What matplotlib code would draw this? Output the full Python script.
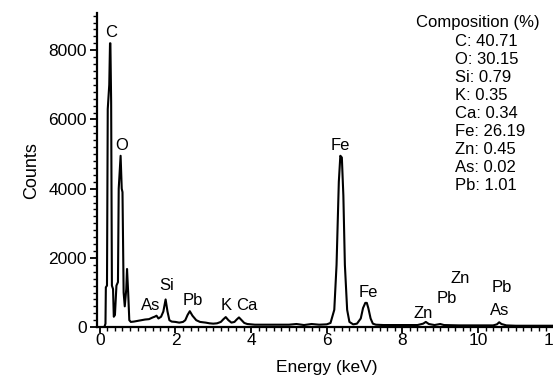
import numpy as np
import matplotlib.pyplot as plt
from matplotlib.ticker import MultipleLocator

plt.rcParams['font.family'] = ['Liberation Sans', 'DejaVu Sans']

# spectrum (keV, counts)
energy = [0.0, 0.12, 0.15, 0.16, 0.19, 0.21, 0.25, 0.27, 0.28, 0.30, 0.32, 0.35,
          0.37, 0.40, 0.44, 0.48, 0.50, 0.55, 0.58, 0.60, 0.63, 0.66, 0.70, 0.72,
          0.75, 0.78, 0.82, 0.90, 1.00, 1.10, 1.20, 1.30, 1.40, 1.45, 1.50, 1.55,
          1.62, 1.68, 1.74, 1.79, 1.84, 1.90, 2.00, 2.10, 2.20, 2.26, 2.32, 2.38,
          2.45, 2.55, 2.65, 2.80, 2.90, 3.00, 3.10, 3.20, 3.27, 3.33, 3.40, 3.48,
          3.56, 3.62, 3.68, 3.75, 3.82, 3.90, 4.00, 4.10, 4.20, 4.50, 5.00, 5.20,
          5.40, 5.60, 5.80, 6.00, 6.10, 6.20, 6.26, 6.32, 6.36, 6.40, 6.44, 6.48,
          6.54, 6.60, 6.70, 6.80, 6.90, 6.96, 7.02, 7.06, 7.10, 7.16, 7.22, 7.30,
          7.50, 8.00, 8.40, 8.55, 8.62, 8.70, 8.85, 9.00, 9.10, 9.50, 10.00, 10.40,
          10.50, 10.56, 10.62, 10.75, 11.00, 11.50, 12.00]
counts = [0, 0, 100, 1150, 1200, 6300, 7000, 8200, 8200, 6500, 1200, 1100,
          300, 350, 1200, 1300, 4000, 4950, 4000, 3900, 1000, 600, 1100, 1680,
          1000, 200, 150, 160, 180, 200, 220, 230, 280, 300, 330, 250,
          300, 450, 800, 450, 200, 160, 150, 130, 150, 200, 350, 460,
          330, 200, 150, 130, 110, 100, 110, 150, 230, 290, 200, 130,
          150, 220, 280, 200, 120, 90, 80, 70, 70, 70, 70, 90,
          60, 90, 70, 80, 120, 500, 1800, 4200, 4950, 4900, 3800, 1800,
          500, 150, 80, 100, 250, 550, 700, 700, 550, 250, 100, 70,
          60, 60, 60, 100, 150, 90, 60, 90, 60, 50, 50, 50,
          80, 140, 90, 50, 40, 40, 40]

peak_labels = ['C', 'O', 'As', 'Si', 'Pb', 'K', 'Ca', 'Fe', 'Fe', 'Zn', 'Pb', 'Zn', 'Pb', 'As']
label_x = [0.30, 0.58, 1.35, 1.77, 2.46, 3.34, 3.90, 6.35, 7.10, 8.54, 9.18, 9.52, 10.62, 10.56]
label_y = [8500, 5250, 620, 1200, 760, 620, 620, 5250, 1000, 390, 820, 1400, 1140, 470]

elements = ['C', 'O', 'Si', 'K', 'Ca', 'Fe', 'Zn', 'As', 'Pb']
composition = ['40.71', '30.15', '0.79', '0.35', '0.34', '26.19', '0.45', '0.02', '1.01']

fig = plt.figure(figsize=(5.53, 3.76), dpi=100)
ax = fig.add_axes([0.175, 0.13, 0.833, 0.835])

ax.plot(energy, counts, color='black', lw=1.5)

for lab, x, y in zip(peak_labels, label_x, label_y):
    ax.text(x, y, lab, ha='center', va='center', fontsize=12)

ax.set_xlim(-0.08, 12.1)
ax.set_ylim(0, 9070)
ax.xaxis.set_major_locator(MultipleLocator(2))
ax.xaxis.set_minor_locator(MultipleLocator(0.2))
ax.yaxis.set_major_locator(MultipleLocator(2000))
ax.yaxis.set_minor_locator(MultipleLocator(200))
ax.tick_params(which='major', length=5, width=1.3, labelsize=12.5, pad=2)
ax.tick_params(axis='x', which='major', length=4, pad=0)
ax.tick_params(which='minor', length=3, width=1.0)
ax.spines['top'].set_visible(False)
ax.spines['right'].set_visible(False)
ax.spines['left'].set_linewidth(1.6)
ax.spines['bottom'].set_linewidth(1.6)

ax.set_xlabel('Energy (keV)', fontsize=12.5, labelpad=9)
ax.set_ylabel('Counts', fontsize=13, labelpad=6)

# composition box
fig.text(416 / 553, 1 - 23 / 376, 'Composition (%)', ha='left', va='center', fontsize=12)
for i, (el, val) in enumerate(zip(elements, composition)):
    y = 1 - (41 + i * 18.1) / 376
    fig.text(455 / 553, y, f'{el}: {val}', ha='left', va='center', fontsize=12)

fig.savefig('out.png', dpi=100)
